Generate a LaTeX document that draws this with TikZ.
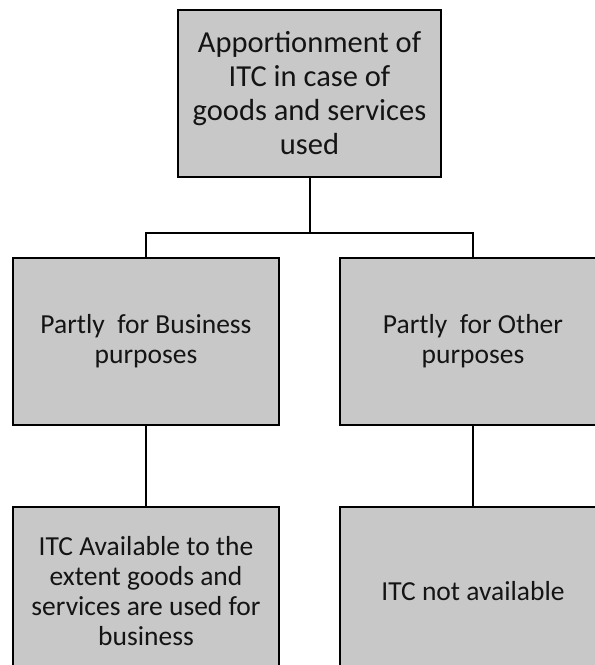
\documentclass[tikz,border=0pt]{standalone}
\usepackage{fontspec}
\setmainfont{Carlito}
\usetikzlibrary{positioning, calc}
\definecolor{boxgray}{RGB}{200,200,200}
\definecolor{inkgray}{RGB}{20,20,20}

\begin{document}
\begin{tikzpicture}[
    x=1pt, y=1pt,
    node distance=80pt,
    itcbox/.style={rectangle, draw, line width=2.2pt, fill=boxgray, text=inkgray, minimum width=266pt, minimum height=167pt, align=center, font=\fontsize{27.5}{30}\selectfont},
    topbox/.style={itcbox, minimum width=263pt, font=\fontsize{30.5}{34}\selectfont},
    link/.style={line width=2pt}
]
\clip (0,0) rectangle (595,-665);
\useasboundingbox (0,0) rectangle (595,-665);
\node[topbox] (apport) at (309.5,-93.5) {Apportionment of\\ITC in case of\\goods and services\\used};
\node[itcbox] (partbus) at (146,-341.5) {Partly\ \ for Business\\purposes};
\node[itcbox] (partoth) at (473,-341.5) {Partly\ \ for Other\\purposes};
\node[itcbox, below=80pt of partbus] (availbus) {ITC Available to the\\extent goods and\\services are used for\\business};
\node[itcbox, below=80pt of partoth] (notavail) {ITC not available};
\draw[link] (apport.south) -- ++(0,-55) -| (partbus.north);
\draw[link] (apport.south) -- ++(0,-55) -| (partoth.north);
\draw[link] (partbus) -- (availbus);
\draw[link] (partoth) -- (notavail);
\end{tikzpicture}
\end{document}
